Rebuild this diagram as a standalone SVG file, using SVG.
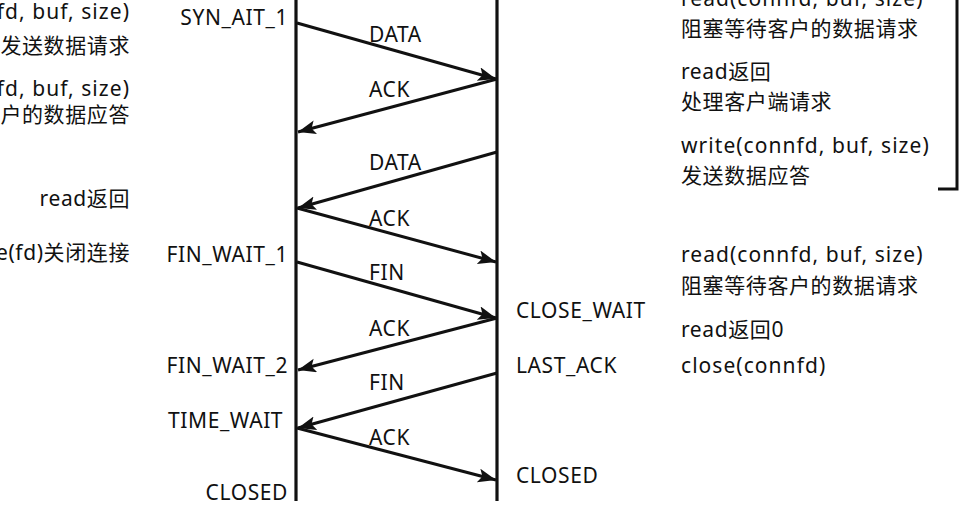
<svg xmlns="http://www.w3.org/2000/svg" width="979" height="524" viewBox="0 0 979 524">
<style>
text{font-family:"Noto Sans","Noto Sans CJK SC",sans-serif;font-size:21px;fill:#111;letter-spacing:0.6px}
.e{text-anchor:end}
.w{letter-spacing:1.05px}
.life{stroke:#111;stroke-width:3.2;fill:none}
.msg{stroke:#111;stroke-width:3;fill:none;marker-end:url(#ah)}
</style>
<defs>
<marker id="ah" markerUnits="userSpaceOnUse" markerWidth="20" markerHeight="16" refX="18" refY="7" orient="auto">
<path d="M0,0 L18,7 L0,14 L4,7 z" fill="#111"/>
</marker>
</defs>
<rect width="979" height="524" fill="#fff"/>
<g id="client">
<line class="life" x1="296" y1="0" x2="296" y2="501"/>
<text class="e" x="288" y="25">SYN_AIT_1</text>
<text class="e" x="288" y="262">FIN_WAIT_1</text>
<text class="e" x="288" y="373">FIN_WAIT_2</text>
<text x="168" y="428">TIME_WAIT</text>
<text class="e" x="288" y="500">CLOSED</text>
</g>
<g id="client-notes">
<text class="e w" x="130" y="19">write(sockfd, buf, size)</text>
<text class="e" x="130" y="53">发送数据请求</text>
<text class="e w" x="130" y="96">read(sockfd, buf, size)</text>
<text class="e" x="130" y="122">阻塞等待客户的数据应答</text>
<text class="e" x="130" y="206">read返回</text>
<text class="e" x="130" y="260">close(fd)关闭连接</text>
</g>
<g id="server">
<line class="life" x1="497" y1="0" x2="497" y2="501"/>
<text x="516" y="318">CLOSE_WAIT</text>
<text x="516" y="373">LAST_ACK</text>
<text x="516" y="483">CLOSED</text>
</g>
<g id="server-notes">
<text class="w" x="681" y="6">read(connfd, buf, size)</text>
<text x="681" y="36">阻塞等待客户的数据请求</text>
<text x="681" y="79">read返回</text>
<text x="681" y="109">处理客户端请求</text>
<text class="w" x="681" y="153">write(connfd, buf, size)</text>
<text x="681" y="183">发送数据应答</text>
<text class="w" x="681" y="262">read(connfd, buf, size)</text>
<text x="681" y="293">阻塞等待客户的数据请求</text>
<text x="681" y="337">read返回0</text>
<text class="w" x="681" y="373">close(connfd)</text>
<path d="M957,0 L957,189 L938,189" stroke="#111" stroke-width="3" fill="none"/>
</g>
<g id="connectors">
<line class="msg" x1="297" y1="23" x2="496" y2="79"/>
<line class="msg" x1="497" y1="79" x2="298" y2="132"/>
<line class="msg" x1="497" y1="152" x2="298" y2="208"/>
<line class="msg" x1="297" y1="208" x2="496" y2="262"/>
<line class="msg" x1="297" y1="262" x2="496" y2="318"/>
<line class="msg" x1="497" y1="318" x2="298" y2="370"/>
<line class="msg" x1="497" y1="373" x2="298" y2="428"/>
<line class="msg" x1="297" y1="428" x2="496" y2="480"/>
<text x="369" y="42">DATA</text>
<text x="369" y="97">ACK</text>
<text x="369" y="170">DATA</text>
<text x="369" y="226">ACK</text>
<text x="369" y="280">FIN</text>
<text x="369" y="336">ACK</text>
<text x="369" y="390">FIN</text>
<text x="369" y="445">ACK</text>
</g>
</svg>
